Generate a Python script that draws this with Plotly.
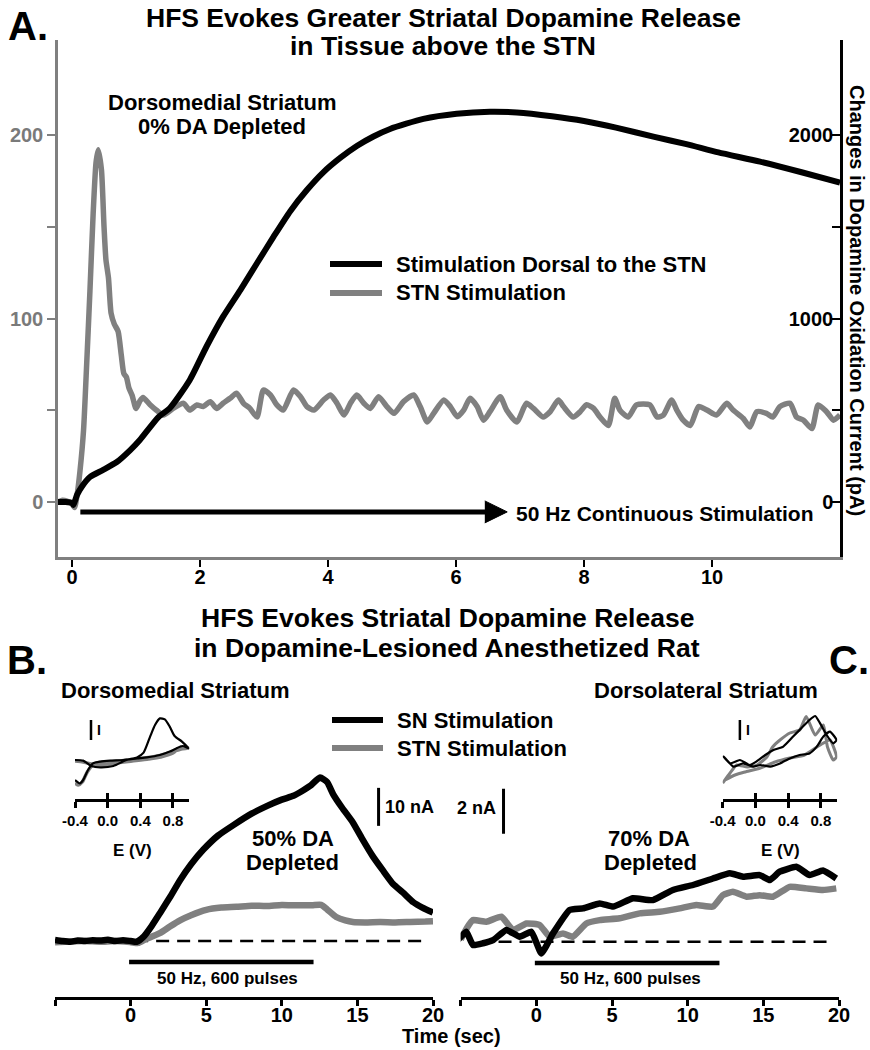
import plotly.graph_objects as go

W, H = 870, 1050
def fx(p):
    return p / W
def fy(p):
    return 1 - p / H

GRAY = "#808080"
FONT = "Liberation Sans, Arial, Helvetica, sans-serif"

# ---------------- Panel A data ----------------
# Stimulation dorsal to the STN (right axis, pA)
a_dorsal_t = [-0.22, -0.1, 0.0, 0.02, 0.08, 0.15, 0.28, 0.48, 0.70, 0.91, 1.06, 1.35, 1.53, 1.84,
              2.10, 2.36, 2.63, 2.89, 3.15, 3.41, 3.67, 3.93, 4.19, 4.45, 4.71, 4.97, 5.49, 6.01,
              6.53, 6.95, 7.5, 8.0, 8.5, 9.1, 9.6, 10.1, 10.75, 11.4, 12.0]
a_dorsal_v = [0, 0, -5, -16, 40, 82, 136, 174, 218, 283, 338, 463, 512, 665,
              846, 1010, 1155, 1301, 1446, 1585, 1700, 1798, 1875, 1940, 1992, 2033, 2088, 2116,
              2127, 2123, 2102, 2076, 2040, 1990, 1950, 1905, 1855, 1797, 1740]
# STN stimulation (left axis)
a_stn_t = [-0.22, -0.15, -0.08, 0.0, 0.04, 0.08, 0.125, 0.18, 0.23, 0.28, 0.33, 0.375, 0.41, 0.46,
           0.50, 0.53, 0.57, 0.61, 0.66, 0.72, 0.77, 0.81, 0.85, 0.89, 0.94, 1.0, 1.06, 1.11, 1.22,
           1.32, 1.43, 1.58, 1.74, 1.84, 1.95, 2.05, 2.16, 2.26, 2.36, 2.47, 2.57, 2.68, 2.78, 2.89,
           2.99, 3.1, 3.2, 3.3, 3.46, 3.57, 3.67, 3.78, 3.93, 4.04, 4.14, 4.25, 4.35, 4.45, 4.56,
           4.66, 4.79, 4.92, 5.03, 5.18, 5.34, 5.44, 5.55, 5.65, 5.81, 5.91, 6.02, 6.12, 6.22, 6.33,
           6.43, 6.53, 6.69, 6.79, 6.95, 7.1, 7.21, 7.36, 7.47, 7.6, 7.68, 7.83, 7.94, 8.04, 8.15,
           8.25, 8.38, 8.48, 8.56, 8.69, 8.82, 9.03, 9.14, 9.24, 9.37, 9.45, 9.55, 9.66, 9.79, 9.92,
           10.07, 10.23, 10.33, 10.49, 10.59, 10.7, 10.85, 10.95, 11.06, 11.22, 11.32, 11.43, 11.56,
           11.66, 11.79, 11.9, 12.0]
a_stn_v = [0, 1, 0.5, -1, -3, 4, 17, 39, 76, 115, 157, 185, 192, 181,
           150, 132, 122, 103, 97, 93, 80, 70, 68, 62, 58, 51, 55, 57, 53,
           50, 47.4, 51, 53.8, 50.1, 52.9, 52, 54.7, 51, 53.8, 56.5, 59.3, 53.8, 51, 46.3,
           61, 58.3, 52.9, 50.1, 61, 57.4, 52, 50.1, 55.6, 58.3, 53.8, 47.4, 53.8, 58.3, 53.8,
           51, 57.4, 52, 48.3, 54.7, 58.3, 52, 43.6, 48.3, 55.6, 52, 46.5, 50.1, 56.5, 52,
           44.6, 49.2, 57.4, 50.1, 43.6, 53.8, 51, 46.3, 49.2, 55.6, 52, 46.3, 49.2, 53, 51,
           46.3, 41.7, 56.5, 50.1, 46.3, 52.9, 52.9, 46.3, 47.4, 55.6, 50.1, 44.6, 41.7, 52, 50.1,
           47.4, 53.8, 50.1, 45.5, 40.9, 49.2, 48.3, 46.3, 52, 53.8, 46.3, 44.6, 40,
           52.9, 49.2, 44.6, 47.4]
a_left_ticks = [0, 50, 100, 150, 200]
a_left_text = ["0", "", "100", "", "200"]
a_right_ticks = [0, 500, 1000, 1500, 2000]
a_right_text = ["0", "", "1000", "", "2000"]
a_x_ticks = [0, 2, 4, 6, 8, 10]
stim_arrow_t = [0.13, 6.5]
stim_arrow_head_t = [6.45, 6.80, 6.45]
stim_arrow_level = -5.4

# ---------------- Panel B data (nA) ----------------
b_sn_t = [-5, -4.5, -4, -3.5, -3, -2.5, -2, -1.5, -1, -0.5, 0, 0.4, 0.83, 1.4, 1.95, 2.6, 3.27, 4.0,
          4.8, 5.8, 6.8, 8.0, 9.0, 10.0, 10.77, 11.4, 11.87, 12.53, 13.0, 13.4, 14.0, 14.7, 15.3,
          16.0, 16.7, 17.36, 18.0, 18.7, 19.3, 20.0]
b_sn_v = [0.3, 0.0, -0.2, 0.1, 0.0, 0.2, 0.1, 0.3, 0.0, 0.2, 0.0, -0.2, 1.0, 4.0, 7.4, 11.5, 16.0, 20.2,
          24.0, 27.8, 30.5, 33.5, 35.5, 37.2, 38.2, 39.6, 40.8, 43.0, 41.8, 38.6, 35.0, 31.2, 27.0,
          22.4, 18.5, 15.0, 12.8, 10.2, 8.8, 7.5]
b_stn_t = [-5, -4, -3, -2, -1, 0, 0.5, 1.0, 1.5, 2.0, 2.6, 3.3, 4.0, 5.0, 6.0, 7.0, 8.0, 9.0, 10.0,
           11.0, 12.0, 12.6, 13.0, 13.6, 14.2, 14.7, 15.5, 16.5, 17.5, 18.5, 19.5, 20.0]
b_stn_v = [-0.3, -0.1, 0.0, -0.2, 0.0, -0.3, -0.5, 0.5, 1.3, 2.2, 3.8, 5.5, 6.8, 8.2, 8.8, 9.0, 9.3,
           9.2, 9.5, 9.4, 9.4, 9.5, 8.3, 6.3, 5.4, 5.0, 4.9, 5.0, 4.9, 5.0, 5.1, 5.2]

# ---------------- Panel C data (nA) ----------------
c_sn_t = [-5.2, -4.63, -4.19, -3.52, -2.86, -1.98, -1.1, -0.33, 0.33, 1.1, 2.2, 3.08, 4.19, 5.07,
          6.39, 7.7, 9.03, 10.35, 11.67, 12.78, 13.66, 14.76, 15.42, 16.08, 17.18, 18.06, 18.94, 19.82]
c_sn_v = [0.07, 0.44, -0.15, -0.07, 0.07, 0.52, 0.22, 0.44, -0.52, 0.37, 1.41, 1.48, 1.7, 1.56,
          1.93, 1.85, 2.3, 2.52, 2.81, 3.04, 2.89, 2.96, 2.74, 3.11, 3.33, 2.96, 3.16, 2.81]
c_stn_t = [-5.0, -4.6, -4.19, -3.3, -2.31, -1.54, -0.66, 0.22, 0.88, 1.76, 2.42, 3.3, 4.19, 5.5,
           6.83, 8.15, 9.47, 10.57, 11.67, 12.33, 12.99, 13.88, 14.76, 15.64, 16.74, 17.84, 18.94, 19.82]
c_stn_v = [0.1, 0.6, 0.96, 0.89, 1.11, 0.52, 0.81, 0.74, 0.22, 0.37, 0.22, 0.81, 0.96, 1.04,
           1.26, 1.33, 1.48, 1.63, 1.56, 2.07, 2.22, 2.0, 2.07, 2.0, 2.44, 2.37, 2.3, 2.37]
bc_x_ticks = [-5, 0, 5, 10, 15, 20]
bc_x_text = ["", "0", "5", "10", "15", "20"]
stim_bar_t = [-0.1, 12.1]
b_baseline_t = [0.3, 19.7]
c_baseline_t = [-2.5, 19.7]
b_scale_t, b_scale_v = 16.4, [30.3, 40.3]   # 10 nA
c_scale_t, c_scale_v = -2.17, [4.8, 6.8]    # 2 nA

# ---------------- Cyclic voltammograms (E in V, current in arb. units) ----------------
cv_b_sn_e = [-0.40, -0.30, -0.20, -0.09, 0.07, 0.23, 0.36, 0.44, 0.52, 0.58, 0.64, 0.70, 0.76, 0.82,
             0.91, 0.99, 0.92, 0.84, 0.76, 0.64, 0.48, 0.36, 0.19, 0.03, -0.09, -0.18, -0.24, -0.30,
             -0.34, -0.40]
cv_b_sn_i = [2.0, 1.97, 1.7, 1.63, 1.7, 2.0, 2.13, 2.37, 3.17, 3.75, 4.08, 4.03, 3.67, 3.2,
             2.92, 2.58, 2.7, 2.58, 2.42, 2.25, 2.13, 2.08, 2.0, 1.97, 1.92, 1.83, 1.5, 1.0,
             0.83, 1.0]
cv_b_stn_e = [-0.40, -0.30, -0.20, -0.05, 0.1, 0.3, 0.5, 0.65, 0.8, 0.9, 0.99, 0.9, 0.75, 0.55,
              0.35, 0.15, -0.05, -0.17, -0.25, -0.31, -0.36, -0.40]
cv_b_stn_i = [1.95, 1.9, 1.8, 1.75, 1.85, 1.95, 2.05, 2.15, 2.35, 2.65, 2.6, 2.55, 2.35, 2.15,
              2.05, 1.95, 1.9, 1.8, 1.4, 0.9, 0.75, 0.85]
cv_c_sn_e = [-0.39, -0.31, -0.19, -0.07, 0.01, 0.12, 0.22, 0.34, 0.46, 0.58, 0.66, 0.73, 0.79, 0.87,
             0.95, 0.99, 0.91, 0.83, 0.75, 0.66, 0.54, 0.42, 0.30, 0.18, 0.06, -0.03, -0.15, -0.27,
             -0.35, -0.39]
cv_c_sn_i = [2.17, 1.83, 2.0, 1.75, 1.92, 2.25, 2.5, 2.67, 3.17, 3.67, 4.0, 4.2, 3.83, 3.25,
             2.83, 3.0, 3.42, 3.17, 2.67, 2.33, 2.25, 2.08, 1.83, 1.67, 1.75, 1.67, 1.83, 1.67,
             2.0, 2.17]
cv_c_stn_e = [-0.40, -0.31, -0.23, -0.10, 0.02, 0.14, 0.21, 0.30, 0.42, 0.54, 0.62, 0.73, 0.83, 0.88,
              0.95, 0.99, 0.91, 0.79, 0.60, 0.42, 0.24, 0.06, -0.13, -0.25, -0.37]
cv_c_stn_i = [0.85, 1.35, 1.75, 1.65, 1.75, 2.15, 2.65, 3.0, 3.35, 3.5, 4.17, 3.25, 3.75, 2.65,
              2.0, 2.15, 3.0, 2.75, 2.25, 2.1, 1.9, 1.6, 1.4, 1.25, 1.0]
cv_ticks = [-0.4, 0.0, 0.4, 0.8]
cv_tick_text = ["-0.4", "0.0", "0.4", "0.8"]
cv_scale_b_e, cv_scale_c_e = -0.204, -0.19
cv_scale_i = [3.0, 4.0]

fig = go.Figure()

def line(x, y, xa, ya, color, width, dash=None, shape="linear", smoothing=None):
    ln = dict(color=color, width=width)
    if dash:
        ln["dash"] = dash
    ln["shape"] = shape
    if smoothing is not None:
        ln["smoothing"] = smoothing
    fig.add_trace(go.Scatter(x=x, y=y, xaxis=xa, yaxis=ya, mode="lines", line=ln,
                             showlegend=False, hoverinfo="skip"))

# Panel A
line(a_stn_t, a_stn_v, "x", "y", GRAY, 5.5, shape="spline", smoothing=0.6)
line(a_dorsal_t, a_dorsal_v, "x", "y2", "black", 6, shape="spline", smoothing=0.6)
line(stim_arrow_t, [stim_arrow_level] * 2, "x", "y", "black", 5)
fig.add_trace(go.Scatter(x=stim_arrow_head_t, y=[stim_arrow_level + 6, stim_arrow_level, stim_arrow_level - 6],
                         xaxis="x", yaxis="y", mode="lines", fill="toself", fillcolor="black",
                         line=dict(color="black", width=1), showlegend=False, hoverinfo="skip"))

# Panel B
line(b_baseline_t, [0, 0], "x2", "y3", "black", 2.5, dash="13px,8px")
line(b_stn_t, b_stn_v, "x2", "y3", GRAY, 6.5, shape="spline", smoothing=0.5)
line(b_sn_t, b_sn_v, "x2", "y3", "black", 6.5, shape="spline", smoothing=0.5)
line(stim_bar_t, [-5.5, -5.5], "x2", "y3", "black", 4.5)
line([b_scale_t, b_scale_t], b_scale_v, "x2", "y3", "black", 3)

# Panel C
line(c_baseline_t, [0, 0], "x3", "y4", "black", 2.5, dash="13px,8px")
line(c_stn_t, c_stn_v, "x3", "y4", GRAY, 6.5, shape="spline", smoothing=0.4)
line(c_sn_t, c_sn_v, "x3", "y4", "black", 6.5, shape="spline", smoothing=0.4)
line(stim_bar_t, [-0.95, -0.95], "x3", "y4", "black", 4.5)
line([c_scale_t, c_scale_t], c_scale_v, "x3", "y4", "black", 3)

# Insets
line(cv_b_stn_e, cv_b_stn_i, "x4", "y5", GRAY, 3.5, shape="spline", smoothing=0.6)
line(cv_b_sn_e, cv_b_sn_i, "x4", "y5", "black", 2.2, shape="spline", smoothing=0.6)
line([cv_scale_b_e, cv_scale_b_e], cv_scale_i, "x4", "y5", "black", 2.5)
line(cv_c_stn_e, cv_c_stn_i, "x5", "y6", GRAY, 3, shape="spline", smoothing=0.5)
line(cv_c_sn_e, cv_c_sn_i, "x5", "y6", "black", 2.2, shape="spline", smoothing=0.5)
line([cv_scale_c_e, cv_scale_c_e], cv_scale_i, "x5", "y6", "black", 2.5)
# dummy traces so the overlay tick axes are drawn
line([0.0], [1.0], "x6", "y5", "rgba(0,0,0,0)", 0.1)
line([0.0], [1.0], "x7", "y6", "rgba(0,0,0,0)", 0.1)

tf = dict(family=FONT, size=20, color="black", weight="bold")

a_y_lo, a_y_hi = (502 - 557) / 1.835, (502 - 40) / 1.835
common_x = dict(showgrid=False, zeroline=False, showline=True, linewidth=2.5, linecolor="black",
                ticks="outside", tickwidth=2.5, tickcolor="black", tickfont=tf, automargin=False)

fig.update_layout(
    width=W, height=H, margin=dict(l=0, r=0, t=0, b=0, autoexpand=False),
    paper_bgcolor="white", plot_bgcolor="rgba(0,0,0,0)",
    font=dict(family=FONT, color="black"),
    xaxis=dict(common_x, domain=[fx(58), fx(840)], range=[-0.219, 12.0], anchor="y",
               linecolor=GRAY, ticklen=7, tickvals=a_x_ticks, tickwidth=2, ticklabelstandoff=-7),
    yaxis=dict(domain=[fy(557), fy(40)], range=[a_y_lo, a_y_hi], anchor="x", showgrid=False,
               zeroline=False, showline=True, linewidth=2.5, linecolor=GRAY, ticks="outside",
               ticklen=8, tickwidth=2, tickcolor=GRAY, tickvals=a_left_ticks, ticktext=a_left_text,
               automargin=False,
               tickfont=dict(family=FONT, size=20, color="#7a7a7a", weight="bold")),
    yaxis2=dict(overlaying="y", side="right", anchor="x", range=[a_y_lo * 10, a_y_hi * 10],
                showgrid=False, zeroline=False, showline=True, linewidth=2.5, linecolor="black",
                ticks="inside", ticklen=8, tickwidth=2, tickcolor="black", ticklabelposition="inside",
                tickvals=a_right_ticks, ticktext=a_right_text, tickfont=tf, automargin=False),
    xaxis2=dict(common_x, domain=[fx(55), fx(433)], range=[-5, 20], anchor="y3", ticklen=6,
                tickvals=bc_x_ticks, ticktext=bc_x_text, ticklabelstandoff=-8),
    yaxis3=dict(domain=[fy(997), fy(690)], range=[-(997 - 941) / 3.8, (941 - 690) / 3.8],
                anchor="x2", visible=False, automargin=False),
    xaxis3=dict(common_x, domain=[fx(460.7), fx(839)], range=[-5, 20], anchor="y4", ticklen=6,
                tickvals=bc_x_ticks, ticktext=bc_x_text, ticklabelstandoff=-8),
    yaxis4=dict(domain=[fy(997), fy(690)], range=[-(997 - 941.7) / 22.5, (941.7 - 690) / 22.5],
                anchor="x3", visible=False, automargin=False),
    xaxis4=dict(common_x, domain=[fx(75), fx(189.3)], range=[-0.4, 1.0], anchor="y5", ticklen=6,
                tickwidth=2.5, tickvals=cv_ticks, ticktext=cv_tick_text,
                tickfont=dict(family=FONT, size=15, color="black", weight="bold")),
    xaxis6=dict(overlaying="x4", domain=[fx(75), fx(189.3)], range=[-0.4, 1.0], anchor="y5",
                showgrid=False, zeroline=False, showline=False, ticks="inside", ticklen=6,
                tickwidth=2.5, tickcolor="black", tickvals=cv_ticks, showticklabels=False,
                automargin=False),
    yaxis5=dict(domain=[fy(799.3), fy(700)], range=[0.035, 5.0], anchor="x4", visible=False,
                automargin=False),
    xaxis5=dict(common_x, domain=[fx(722.7), fx(837.3)], range=[-0.4, 1.0], anchor="y6", ticklen=6,
                tickwidth=2.5, tickvals=cv_ticks, ticktext=cv_tick_text,
                tickfont=dict(family=FONT, size=15, color="black", weight="bold")),
    xaxis7=dict(overlaying="x5", domain=[fx(722.7), fx(837.3)], range=[-0.4, 1.0], anchor="y6",
                showgrid=False, zeroline=False, showline=False, ticks="inside", ticklen=6,
                tickwidth=2.5, tickcolor="black", tickvals=cv_ticks, showticklabels=False,
                automargin=False),
    yaxis6=dict(domain=[fy(799.3), fy(700)], range=[0.035, 5.0], anchor="x5", visible=False,
                automargin=False),
)

def text(s, x, y, size, xanchor="center", angle=0):
    fig.add_annotation(text=s, x=fx(x), y=fy(y), xref="paper", yref="paper", showarrow=False,
                       xanchor=xanchor, yanchor="middle", textangle=angle,
                       font=dict(family=FONT, size=size, color="black", weight="bold"))

# Panel A texts
text("A.", 28, 26, 40)
text("HFS Evokes Greater Striatal Dopamine Release", 443, 18, 26.5)
text("in Tissue above the STN", 443, 46, 26.5)
text("Dorsomedial Striatum", 222, 102, 22)
text("0% DA Depleted", 222, 126, 22)
text("Stimulation Dorsal to the STN", 394, 264, 22, xanchor="left")
text("STN Stimulation", 394, 293, 22, xanchor="left")
text("50 Hz Continuous Stimulation", 514, 513, 21, xanchor="left")
text("Changes in Dopamine Oxidation Current (pA)", 857, 300, 20, angle=90)

# Panels B/C texts
text("HFS Evokes Striatal Dopamine Release", 447, 618, 26.5)
text("in Dopamine-Lesioned Anesthetized Rat", 447, 648, 26.5)
text("B.", 27, 660, 40)
text("C.", 849, 660, 40)
text("Dorsomedial Striatum", 175.5, 690, 22)
text("Dorsolateral Striatum", 705.5, 690, 22)
text("SN Stimulation", 395, 720, 22, xanchor="left")
text("STN Stimulation", 395, 748, 22, xanchor="left")
text("50% DA", 292.5, 838, 22)
text("Depleted", 292.5, 862, 22)
text("70% DA", 649, 838, 22)
text("Depleted", 650, 862, 22)
text("10 nA", 383, 807, 18, xanchor="left")
text("2 nA", 498, 808, 18, xanchor="right")
text("50 Hz, 600 pulses", 227.5, 978, 17)
text("50 Hz, 600 pulses", 630, 978, 17)
text("E (V)", 132, 850, 17)
text("E (V)", 780, 850, 17)
text("I", 99, 730, 14)
text("I", 748, 730, 14)
text("Time (sec)", 452, 1036, 20)

# Legend keys
for (y0, col) in [(264, "black"), (293, GRAY)]:
    fig.add_shape(type="line", xref="paper", yref="paper", x0=fx(330), x1=fx(382), y0=fy(y0), y1=fy(y0),
                  line=dict(color=col, width=6))
for (y0, col) in [(720, "black"), (748, GRAY)]:
    fig.add_shape(type="line", xref="paper", yref="paper", x0=fx(332), x1=fx(383), y0=fy(y0), y1=fy(y0),
                  line=dict(color=col, width=6))

# remove the browser's default 8 px page margin so the 870x1050 figure fills the window exactly
fig.write_html("out.html", config={"displayModeBar": False},
               post_script="document.body.style.margin='0';")
